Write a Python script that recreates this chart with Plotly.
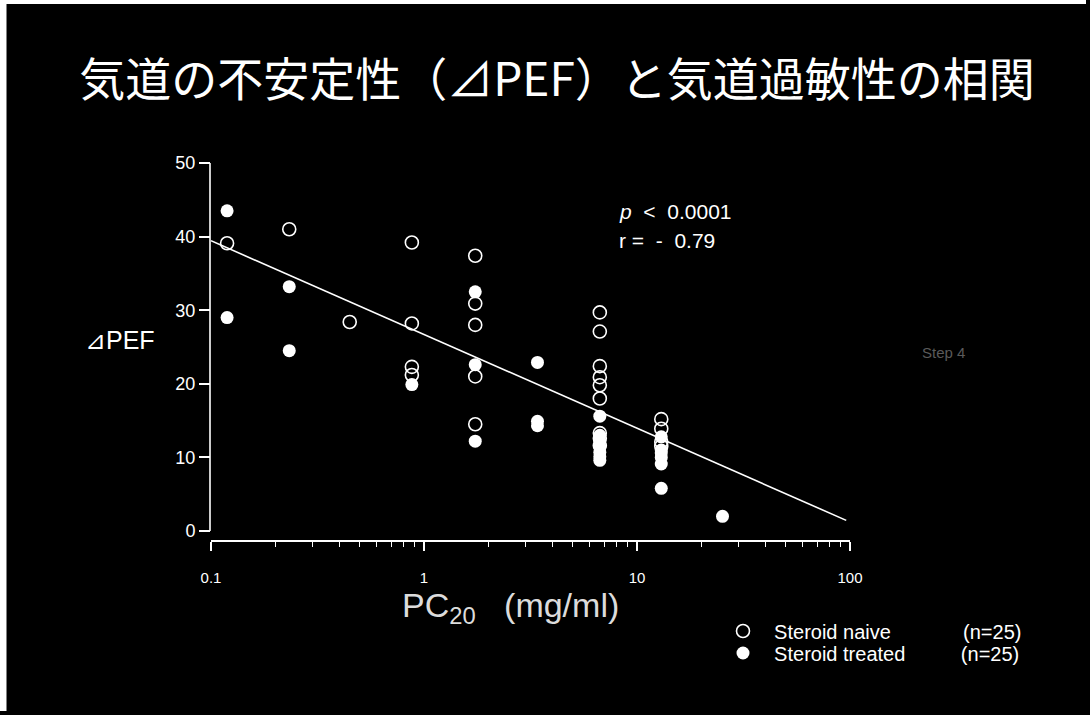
import math
import plotly.graph_objects as go

# PC20 (mg/ml) for each subject and the matching ΔPEF (%)
naive_pc20 = [0.119, 0.233, 0.448,
              0.877, 0.877, 0.877, 0.877,
              1.74, 1.74, 1.74, 1.74, 1.74,
              6.69, 6.69, 6.69, 6.69, 6.69, 6.69, 6.69, 6.69, 6.69,
              13.0, 13.0, 13.0, 13.0]
naive_pef = [39.1, 41.0, 28.4,
             39.2, 28.2, 22.3, 21.2,
             37.4, 30.9, 28.0, 21.0, 14.5,
             29.7, 27.1, 22.4, 20.9, 19.8, 18.0, 13.3, 12.6, 11.6,
             15.2, 13.9, 12.1, 11.5]

treated_pc20 = [0.119, 0.119,
                0.233, 0.233,
                0.877,
                1.74, 1.74, 1.74,
                3.41, 3.41, 3.41,
                6.69, 6.69, 6.69, 6.69, 6.69, 6.69, 6.69,
                13.0, 13.0, 13.0, 13.0, 13.0, 13.0,
                25.2]
treated_pef = [43.5, 29.0,
               33.2, 24.5,
               19.9,
               32.5, 22.6, 12.2,
               22.9, 14.9, 14.3,
               15.6, 13.0, 12.2, 11.4, 10.7, 10.1, 9.6,
               12.8, 11.0, 10.6, 10.0, 9.1, 5.8,
               2.0]

# log-linear regression over all subjects
fit_intercept = 26.7
fit_slope = -12.74
fit_pc20 = [0.1, 0.2, 0.5, 1, 2, 5, 10, 20, 50, 96]

x_tickvals = [0.1, 1, 10, 100]
x_ticktext = ["0.1", "1", "10", "100"]
y_tickvals = [0, 10, 20, 30, 40, 50]

W, H = 1090, 715
L, R, T, B = 211, 850, 160, 540

FONT = "Liberation Sans, Arial, sans-serif"
CJK = "Noto Sans CJK JP, sans-serif"
NB = "\u00a0"


def px(x):
    return (x - L) / (R - L)


def py(y):
    return (B - y) / (B - T)


fit_pef = [fit_intercept + fit_slope * math.log10(v) for v in fit_pc20]

fig = go.Figure()

fig.add_trace(go.Scatter(
    x=fit_pc20, y=fit_pef, mode="lines",
    line=dict(color="white", width=1.6),
    showlegend=False, hoverinfo="skip"))

fig.add_trace(go.Scatter(
    x=treated_pc20, y=treated_pef, mode="markers",
    name=NB * 2 + "Steroid treated" + NB * 10 + "(n=25)",
    legend="legend2",
    marker=dict(symbol="circle", size=13, color="white",
                line=dict(width=0))))

fig.add_trace(go.Scatter(
    x=naive_pc20, y=naive_pef, mode="markers",
    name=NB * 2 + "Steroid naive" + NB * 13 + "(n=25)",
    legend="legend",
    marker=dict(symbol="circle-open", size=13, color="white",
                line=dict(width=1.6, color="white"))))

legend_style = dict(xanchor="left", yanchor="middle",
                    bgcolor="rgba(0,0,0,0)", borderwidth=0,
                    font=dict(family=FONT, size=20, color="white"),
                    itemwidth=30)

fig.update_layout(
    width=W, height=H,
    paper_bgcolor="black", plot_bgcolor="black",
    margin=dict(l=L, r=W - R, t=T, b=H - B),
    font=dict(family=FONT, color="white", size=15),
    title=dict(text="気道の不安定性（⊿PEF）と気道過敏性の相関",
               font=dict(family=CJK, size=46, color="white"),
               x=557 / W, xref="container", xanchor="center",
               y=1 - 80 / H, yref="container", yanchor="middle"),
    showlegend=True,
    legend=dict(x=px(723), y=py(631), **legend_style),
    legend2=dict(x=px(723), y=py(653), **legend_style),
)

fig.update_xaxes(
    type="log", range=[-1, 2],
    tickvals=x_tickvals, ticktext=x_ticktext,
    showgrid=False, zeroline=False,
    showline=True, linecolor="white", linewidth=1.6,
    ticks="outside", ticklen=9, tickwidth=1.6, tickcolor="white",
    ticklabelstandoff=14,
    tickfont=dict(family=FONT, size=15, color="white"),
    minor=dict(ticks="outside", ticklen=5, tickwidth=1.4,
               tickcolor="white", dtick="D1", showgrid=False),
)

fig.update_yaxes(
    range=[-(B - 531) / 7.36, 50 + (163 - T) / 7.36],
    tickvals=y_tickvals,
    showgrid=False, zeroline=False, showline=False,
    ticks="outside", ticklen=11, tickwidth=1.6, tickcolor="white",
    tickfont=dict(family=FONT, size=18, color="white"),
)

# y axis spine, drawn only over the 0–50 span
fig.add_shape(type="line", xref="paper", yref="y",
              x0=px(210), x1=px(210), y0=0, y1=50,
              line=dict(color="white", width=1.6))

# pale paper edge along the top and left of the slide
fig.add_shape(type="line", xref="paper", yref="paper",
              x0=px(0), x1=px(1086), y0=py(2), y1=py(2),
              line=dict(color="white", width=4), layer="above")
fig.add_shape(type="line", xref="paper", yref="paper",
              x0=px(3), x1=px(3), y0=py(0), y1=py(711),
              line=dict(color="white", width=7), layer="above")

annotations = [
    dict(text="⊿PEF", x=px(83), y=py(340), xanchor="left", yanchor="middle",
         font=dict(family=FONT, size=25, color="white")),
    dict(text="PC<sub>20</sub>" + NB * 3 + "(mg/ml)", x=px(400), y=py(607),
         xanchor="left", yanchor="middle",
         font=dict(family=FONT, size=34, color="#dcdcdc")),
    dict(text="<i>p</i>" + NB * 2 + "<" + NB * 2 + "0.0001", x=px(617), y=py(211),
         xanchor="left", yanchor="middle",
         font=dict(family=FONT, size=21, color="white")),
    dict(text="r" + NB + "=" + NB * 2 + "-" + NB * 2 + "0.79", x=px(617), y=py(240),
         xanchor="left", yanchor="middle",
         font=dict(family=FONT, size=21, color="white")),
    dict(text="Step 4", x=px(920), y=py(352), xanchor="left", yanchor="middle",
         font=dict(family=FONT, size=15, color="#5a5a5a")),
]
for a in annotations:
    a.update(xref="paper", yref="paper", showarrow=False)
fig.update_layout(annotations=annotations)

fig.write_html("out.html")
